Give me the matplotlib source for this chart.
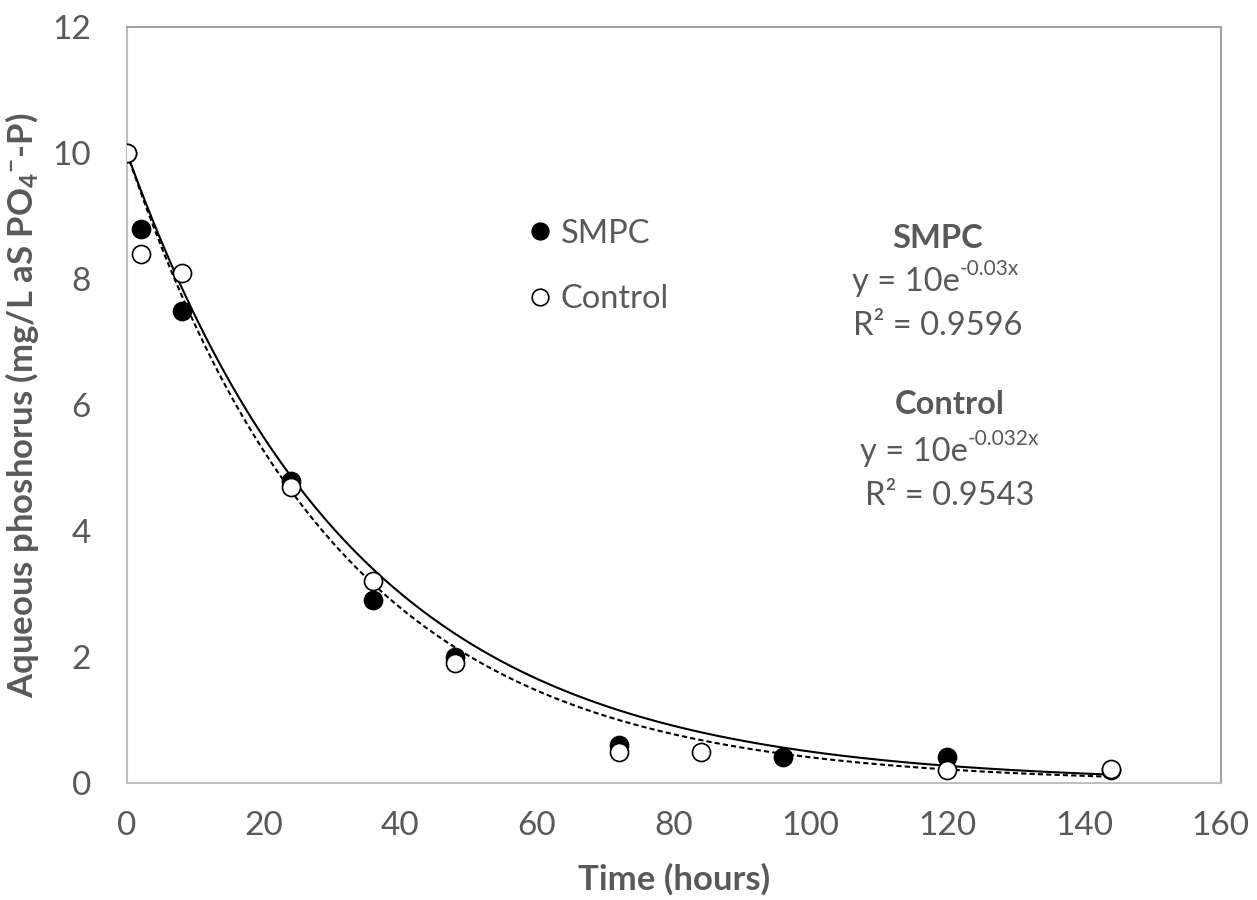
import numpy as np
import matplotlib
matplotlib.use("Agg")
from matplotlib import pyplot as plt

# measured data
smpc_t = [0, 2, 8, 24, 36, 48, 72, 96, 120, 144]
smpc_p = [10.0, 8.8, 7.5, 4.8, 2.9, 2.0, 0.6, 0.42, 0.42, 0.2]
ctrl_t = [0, 2, 8, 24, 36, 48, 72, 84, 120, 144]
ctrl_p = [10.0, 8.4, 8.1, 4.7, 3.2, 1.9, 0.5, 0.5, 0.2, 0.22]

# exponential trendlines y = a*exp(b*x)
smpc_fit = (10.0, -0.03)
ctrl_fit = (10.0, -0.032)
fit_span = (0, 144)

xticks = [0, 20, 40, 60, 80, 100, 120, 140, 160]
yticks = [0, 2, 4, 6, 8, 10, 12]

grey = '#595959'
plt.rcParams['font.family'] = ['Lato', 'DejaVu Sans']
plt.rcParams['mathtext.default'] = 'regular'

fig = plt.figure(figsize=(12.57, 9.0), dpi=100)
ax = fig.add_axes([0.101, 0.13, 0.87, 0.84])

xx = np.linspace(fit_span[0], fit_span[1], 300)
ax.plot(xx, smpc_fit[0]*np.exp(smpc_fit[1]*xx), '-', color='black', lw=1.5, zorder=2)
ax.plot(xx, ctrl_fit[0]*np.exp(ctrl_fit[1]*xx), '--', color='black', lw=1.5,
        dashes=(2.5, 1.5), zorder=2)

ax.plot(smpc_t, smpc_p, 'o', ms=13, mfc='black', mec='black', mew=1.2,
        label='SMPC', zorder=3)
ax.plot(ctrl_t, ctrl_p, 'o', ms=13, mfc='white', mec='black', mew=1.2,
        label='Control', zorder=4)

ax.set_xlim(0, 160)
ax.set_ylim(0, 12)
ax.set_xticks(xticks)
ax.set_yticks(yticks)
ax.tick_params(length=0, labelsize=24, labelcolor=grey)
ax.tick_params(axis='x', pad=20)
ax.tick_params(axis='y', pad=26)
for side in ['left', 'bottom']:
    ax.spines[side].set_color('#bfbfbf')
    ax.spines[side].set_linewidth(1.5)
for side in ['top', 'right']:
    ax.spines[side].set_color('#a0a0a0')
    ax.spines[side].set_linewidth(1.5)

ax.set_xlabel('Time (hours)', fontsize=25, fontweight='bold', color=grey, labelpad=16)
ax.set_ylabel('Aqueous phoshorus (mg/L aS PO$_4$$^{-}$-P)', fontsize=25,
              fontweight='bold', color=grey, labelpad=8)

leg = ax.legend(loc='upper left', bbox_to_anchor=(0.352, 0.768), frameon=False,
                fontsize=23.5, labelcolor=grey, markerscale=0.92, handlelength=0.7,
                handletextpad=0.3, labelspacing=1.08, borderpad=0)

kw = dict(transform=ax.transAxes, va='center', color=grey, fontsize=23.5)
ax.text(0.7413, 0.7200, 'SMPC', ha='center', fontweight='bold', **kw)
ax.text(0.7413, 0.6045, 'R² = 0.9596', ha='center', **kw)
ax.text(0.752, 0.500, 'Control', ha='center', fontweight='bold', **kw)
ax.text(0.752, 0.3796, 'R² = 0.9543', ha='center', **kw)

# equations with a hyphen in the exponent, as in the spreadsheet
for x0, y0, expo in [(0.6627, 0.6627, '-0.03x'), (0.670, 0.4378, '-0.032x')]:
    base = ax.text(x0, y0, 'y = 10e', ha='left', **kw)
    ax.annotate(expo, xy=(1.0, 0.92), xycoords=base, ha='left', va='center',
                fontsize=15, color=grey)

fig.savefig('out.png', dpi=100)
